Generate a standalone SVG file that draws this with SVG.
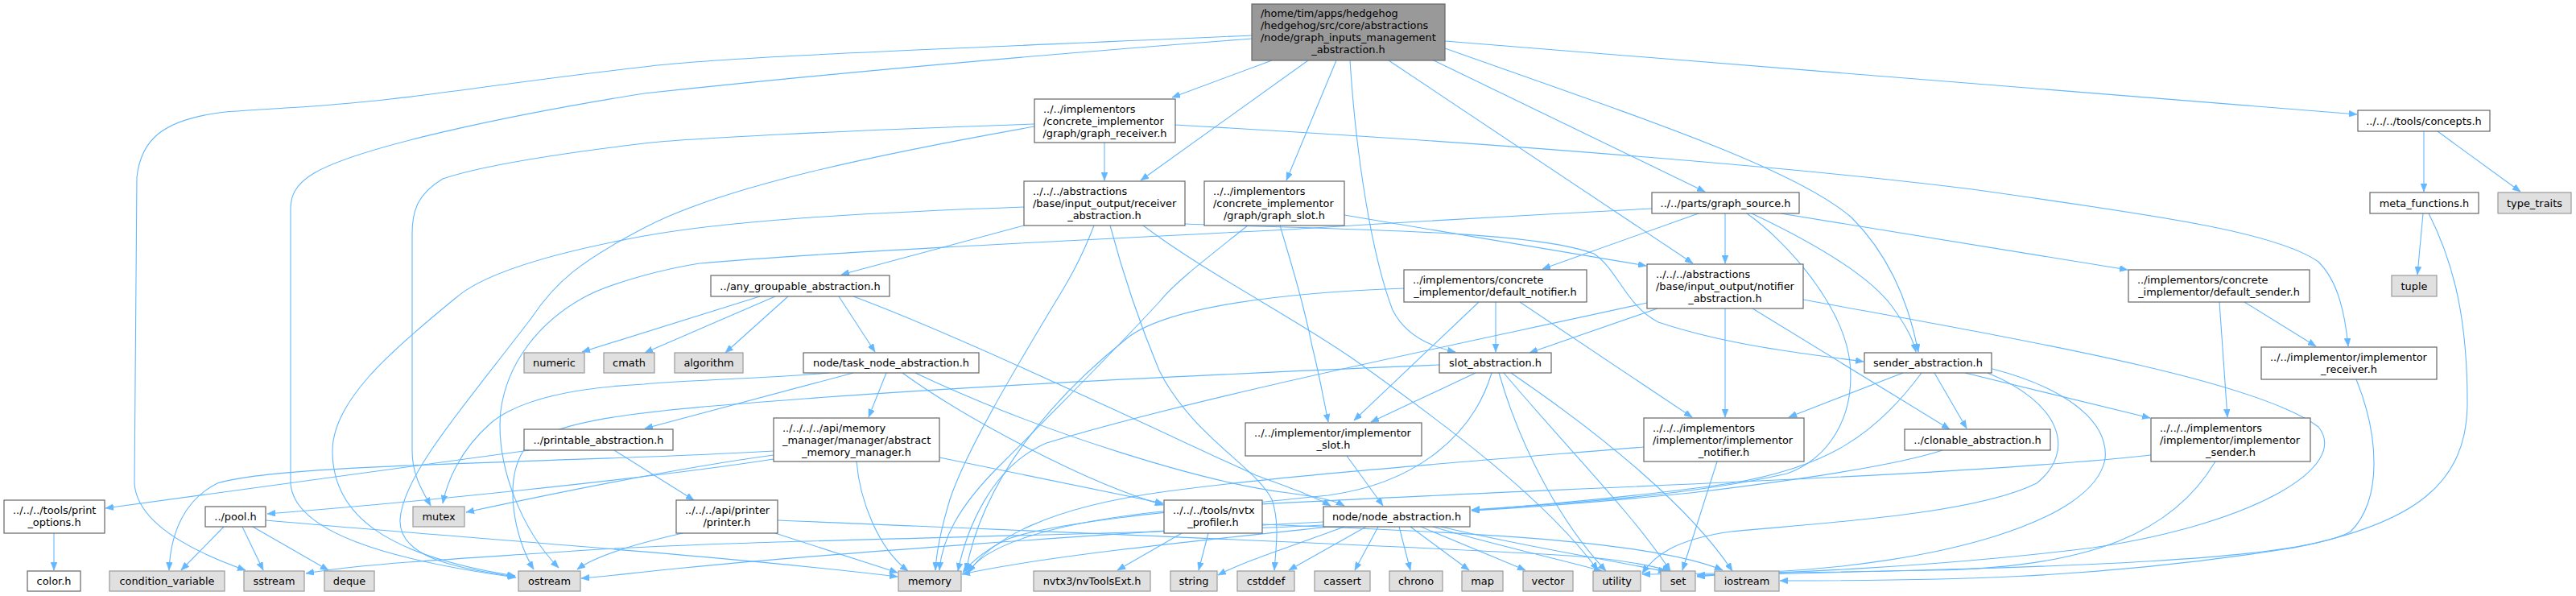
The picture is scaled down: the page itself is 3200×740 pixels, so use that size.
<svg xmlns="http://www.w3.org/2000/svg" width="3200" height="740" viewBox="0 0 3200 740">
<defs>
<style>
.n rect{fill:#ffffff;stroke:#666666;stroke-width:1.2}
.s rect{fill:#e0e0e0;stroke:#999999;stroke-width:1.2}
.r rect{fill:#999999;stroke:#666666;stroke-width:1.2}
text{font-family:"DejaVu Sans","Noto Sans",sans-serif;font-size:12.9px;fill:#000000}
.c{text-anchor:middle}
.e path{fill:none;stroke:#63b8ff;stroke-width:1.1;marker-end:url(#a)}
</style>
<marker id="a" markerUnits="userSpaceOnUse" markerWidth="11" markerHeight="8" refX="10" refY="4" orient="auto">
<path d="M0,0 L10,4 L0,8 z" fill="#63b8ff" stroke="#63b8ff" stroke-width="0.5"/>
</marker>
</defs>
<rect width="3200" height="740" fill="#ffffff"/>
<g id="edges" class="e">
<path d="M1555,44 C1200,60 900,70 800,83 C650,100 560,115 485,123 C400,133 330,135 280,139 C200,148 175,175 170,220 L167,600 C170,650 240,685 305,708"/>
<path d="M1555,48 C1200,75 950,100 800,116 C650,140 450,180 390,215 C365,230 361,245 361,260 L361,600 C365,660 480,695 641,717"/>
<path d="M1580,75 L1456,121"/>
<path d="M1625,75 L1417,224"/>
<path d="M1660,75 L1598,224"/>
<path d="M1677,75 C1685,200 1705,320 1730,385 C1745,415 1775,430 1808,437"/>
<path d="M1725,75 L2103,327"/>
<path d="M1781,75 L2118,238"/>
<path d="M1795,60 C2050,150 2230,210 2300,270 C2350,320 2372,380 2383,437"/>
<path d="M1795,51 L2928,142"/>
<path d="M1372,177 L1372,224"/>
<path d="M1285,154 C1050,162 850,172 800,178 C700,190 600,205 550,222 C520,240 512,260 512,290 L512,560 C512,590 525,610 535,628"/>
<path d="M1285,157 C1100,190 900,230 800,283 C720,325 690,350 660,395 C580,500 500,590 497,645 C495,690 560,705 640,716"/>
<path d="M1460,155 C1900,180 2250,210 2450,235 C2700,270 2830,290 2880,325 C2905,350 2913,390 2917,430"/>
<path d="M1272,280 L1045,341"/>
<path d="M1272,257 C1050,265 900,275 800,293 C680,315 600,340 566,370 C480,440 413,500 413,560 C413,640 480,690 640,715"/>
<path d="M1359,280 C1340,330 1320,360 1305,385 C1260,460 1200,560 1180,620 C1168,660 1163,690 1162,708"/>
<path d="M1379,280 C1395,340 1415,400 1440,460 C1480,540 1560,580 1580,620 C1590,650 1585,680 1583,708"/>
<path d="M1420,280 C1500,340 1600,390 1680,445 C1800,530 1920,620 1985,708"/>
<path d="M1472,278 C1650,285 1900,285 1980,315 C2010,335 2020,380 2060,400 C2150,430 2250,440 2315,449"/>
<path d="M1670,267 L2045,330"/>
<path d="M1550,280 C1500,320 1460,350 1440,375 C1380,440 1300,520 1240,580 C1190,630 1170,670 1167,708"/>
<path d="M1590,280 C1605,330 1620,380 1630,430 C1640,470 1645,500 1650,524"/>
<path d="M2110,265 L1916,334"/>
<path d="M2143,265 L2143,327"/>
<path d="M2176,265 C2250,300 2320,340 2350,380 C2368,405 2376,420 2380,437"/>
<path d="M2212,265 L2643,335"/>
<path d="M2170,265 C2220,300 2290,380 2298,450 C2305,520 2270,570 2220,588 C2100,615 1950,625 1828,633"/>
<path d="M2052,259 C1800,272 1650,282 1600,285 C1300,300 1000,315 869,327 C830,333 760,350 724,370 C670,400 630,450 622,510 C615,580 650,660 694,705"/>
<path d="M3011,163 L3011,238"/>
<path d="M3028,163 L3131,238"/>
<path d="M3010,265 L3003,341"/>
<path d="M3017,265 C3050,330 3065,400 3065,500 C3065,600 3000,650 2850,680 C2600,720 2400,721 2211,721"/>
<path d="M944,368 L723,437"/>
<path d="M963,368 L801,438"/>
<path d="M979,368 L901,438"/>
<path d="M1042,368 L1087,437"/>
<path d="M1060,368 C1200,420 1450,540 1560,590 C1600,605 1630,615 1653,628"/>
<path d="M1030,463 C950,470 850,472 800,477 C700,482 640,500 610,525 C570,560 555,600 550,625"/>
<path d="M1060,463 L801,532"/>
<path d="M1101,463 L1079,518"/>
<path d="M1121,463 C1200,520 1350,600 1445,627"/>
<path d="M1137,463 C1300,540 1500,600 1600,612 C1630,616 1655,620 1670,628"/>
<path d="M961,570 C800,595 500,625 332,638"/>
<path d="M961,565 C850,580 700,610 579,636"/>
<path d="M961,560 C700,575 350,575 270,600 C230,620 212,660 210,708"/>
<path d="M1064,573 C1068,620 1090,680 1128,709"/>
<path d="M1167,568 L1445,625"/>
<path d="M1673,566 L1718,628"/>
<path d="M658,559 L131,631"/>
<path d="M763,559 L862,621"/>
<path d="M67,662 L67,708"/>
<path d="M278,654 L225,708"/>
<path d="M301,654 L327,708"/>
<path d="M314,654 L408,708"/>
<path d="M330,646 C600,670 900,690 1115,716"/>
<path d="M848,662 C790,675 740,690 717,707"/>
<path d="M963,662 L1115,711"/>
<path d="M966,646 C1300,660 1800,680 1950,690 C2010,694 2050,702 2075,709"/>
<path d="M1468,662 L1388,708"/>
<path d="M1501,662 L1489,708"/>
<path d="M1568,651 C1800,660 2050,670 2140,708"/>
<path d="M1644,652 C1400,665 900,670 700,685 C550,695 450,700 380,712"/>
<path d="M1644,648 C1400,660 1000,690 850,705 C780,712 750,716 722,718"/>
<path d="M1652,654 C1500,670 1300,690 1195,713"/>
<path d="M1670,654 C1600,680 1550,695 1513,714"/>
<path d="M1697,654 L1601,708"/>
<path d="M1712,654 L1683,708"/>
<path d="M1738,654 L1752,708"/>
<path d="M1752,654 L1825,708"/>
<path d="M1765,654 L1895,708"/>
<path d="M1780,654 C1850,675 1940,695 1990,709"/>
<path d="M1790,654 C1900,680 2000,695 2070,710"/>
<path d="M1833,463 L1703,524"/>
<path d="M1853,463 C1830,540 1760,600 1650,615 C1450,635 1300,650 1250,670 C1220,685 1205,700 1196,711"/>
<path d="M1862,463 C1890,560 1940,650 1995,709"/>
<path d="M1868,463 C1950,560 2030,640 2075,709"/>
<path d="M1877,463 C1990,540 2100,630 2152,709"/>
<path d="M1788,453 C1500,465 1200,480 1000,495 C800,510 680,520 650,560 C625,600 640,670 663,707"/>
<path d="M2364,463 L2222,518"/>
<path d="M2387,463 C2330,540 2270,580 2150,600 C2050,615 1900,628 1828,634"/>
<path d="M2403,463 L2443,532"/>
<path d="M2441,463 L2671,519"/>
<path d="M2475,458 C2560,480 2620,520 2615,570 C2600,650 2400,700 2200,710 C2160,712 2130,714 2108,716"/>
<path d="M2469,463 C2560,500 2580,560 2530,600 C2450,640 2250,650 2150,660 C2080,670 2055,690 2040,712"/>
<path d="M2059,383 L1900,438"/>
<path d="M2143,383 L2143,518"/>
<path d="M2177,383 L2422,533"/>
<path d="M2046,376 C1800,430 1500,490 1300,550 C1230,580 1200,660 1190,709"/>
<path d="M2240,372 C2500,420 2800,470 2880,530 C2920,580 2800,650 2600,680 C2400,705 2200,712 2108,714"/>
<path d="M1858,375 L1858,437"/>
<path d="M1837,375 L1682,522"/>
<path d="M1888,375 L2102,518"/>
<path d="M1744,358 C1600,363 1450,380 1400,420 C1300,500 1220,600 1200,709"/>
<path d="M2757,375 L2767,518"/>
<path d="M2788,375 L2877,430"/>
<path d="M2927,471 C2955,540 2960,620 2920,660 C2850,700 2500,705 2108,715"/>
<path d="M2042,555 C1800,575 1600,590 1450,610 C1300,630 1230,670 1203,711"/>
<path d="M2133,573 L2090,708"/>
<path d="M2672,565 C2400,595 1800,610 1500,630 C1300,645 1220,680 1203,711"/>
<path d="M2752,573 C2700,660 2600,705 2400,708 C2200,712 2100,712 2040,713"/>
<path d="M2413,559 C2350,580 2200,600 2100,612 C2000,622 1900,630 1828,634"/>
</g>
<g id="root" class="r"><rect x="1555" y="5" width="240" height="70"/><text x="1566" y="21">/home/tim/apps/hedgehog</text><text x="1566" y="36">/hedgehog/src/core/abstractions</text><text x="1566" y="51">/node/graph_inputs_management</text><text class="c" x="1675" y="66">_abstraction.h</text></g>
<g id="graph_receiver" class="n"><rect x="1285" y="123" width="175" height="54"/><text x="1296" y="139.5">../../implementors</text><text x="1296" y="154.5">/concrete_implementor</text><text class="c" x="1372.5" y="169.5">/graph/graph_receiver.h</text></g>
<g id="receiver_abstraction" class="n"><rect x="1272" y="225" width="200" height="55"/><text x="1283" y="241.5">../../../abstractions</text><text x="1283" y="256.5">/base/input_output/receiver</text><text class="c" x="1372" y="271.5">_abstraction.h</text></g>
<g id="graph_slot" class="n"><rect x="1496" y="225" width="174" height="55"/><text x="1507" y="241.5">../../implementors</text><text x="1507" y="256.5">/concrete_implementor</text><text class="c" x="1583" y="271.5">/graph/graph_slot.h</text></g>
<g id="concepts" class="n"><rect x="2929" y="137" width="164" height="26"/><text class="c" x="3011" y="154.5">../../../tools/concepts.h</text></g>
<g id="graph_source" class="n"><rect x="2052" y="239" width="183" height="26"/><text class="c" x="2143.5" y="256.5">../../parts/graph_source.h</text></g>
<g id="meta_functions" class="n"><rect x="2944" y="239" width="135" height="26"/><text class="c" x="3011.5" y="256.5">meta_functions.h</text></g>
<g id="type_traits" class="s"><rect x="3103" y="239" width="91" height="26"/><text class="c" x="3148.5" y="256.5">type_traits</text></g>
<g id="any_groupable" class="n"><rect x="883" y="342" width="222" height="26"/><text class="c" x="994" y="359.5">../any_groupable_abstraction.h</text></g>
<g id="default_notifier" class="n"><rect x="1744" y="335" width="227" height="40"/><text x="1755" y="351.5">../implementors/concrete</text><text class="c" x="1857.5" y="366.5">_implementor/default_notifier.h</text></g>
<g id="notifier_abstraction" class="n"><rect x="2046" y="328" width="194" height="55"/><text x="2057" y="344.5">../../../abstractions</text><text x="2057" y="359.5">/base/input_output/notifier</text><text class="c" x="2143" y="374.5">_abstraction.h</text></g>
<g id="default_sender" class="n"><rect x="2644" y="335" width="225" height="40"/><text x="2655" y="351.5">../implementors/concrete</text><text class="c" x="2756.5" y="366.5">_implementor/default_sender.h</text></g>
<g id="tuple" class="s"><rect x="2971" y="342" width="56" height="26"/><text class="c" x="2999" y="359.5">tuple</text></g>
<g id="numeric" class="s"><rect x="651" y="438" width="75" height="25"/><text class="c" x="688.5" y="455">numeric</text></g>
<g id="cmath" class="s"><rect x="750" y="438" width="63" height="25"/><text class="c" x="781.5" y="455">cmath</text></g>
<g id="algorithm" class="s"><rect x="838" y="438" width="85" height="25"/><text class="c" x="880.5" y="455">algorithm</text></g>
<g id="task_node_abstraction" class="n"><rect x="998" y="438" width="218" height="25"/><text class="c" x="1107" y="455">node/task_node_abstraction.h</text></g>
<g id="slot_abstraction" class="n"><rect x="1788" y="438" width="139" height="25"/><text class="c" x="1857.5" y="455">slot_abstraction.h</text></g>
<g id="sender_abstraction" class="n"><rect x="2316" y="438" width="158" height="25"/><text class="c" x="2395" y="455">sender_abstraction.h</text></g>
<g id="implementor_receiver" class="n"><rect x="2809" y="431" width="218" height="40"/><text x="2820" y="447.5">../../implementor/implementor</text><text class="c" x="2918" y="462.5">_receiver.h</text></g>
<g id="abstract_memory_manager" class="n"><rect x="961" y="519" width="206" height="54"/><text x="972" y="535.5">../../../../api/memory</text><text x="972" y="550.5">_manager/manager/abstract</text><text class="c" x="1064" y="565.5">_memory_manager.h</text></g>
<g id="implementor_slot" class="n"><rect x="1547" y="525" width="219" height="41"/><text x="1558" y="541.5">../../implementor/implementor</text><text class="c" x="1656.5" y="556.5">_slot.h</text></g>
<g id="implementor_notifier" class="n"><rect x="2042" y="519" width="199" height="54"/><text x="2053" y="535.5">../../../implementors</text><text x="2053" y="550.5">/implementor/implementor</text><text class="c" x="2141.5" y="565.5">_notifier.h</text></g>
<g id="implementor_sender" class="n"><rect x="2672" y="519" width="198" height="54"/><text x="2683" y="535.5">../../../implementors</text><text x="2683" y="550.5">/implementor/implementor</text><text class="c" x="2771" y="565.5">_sender.h</text></g>
<g id="printable_abstraction" class="n"><rect x="651" y="533" width="185" height="26"/><text class="c" x="743.5" y="550.5">../printable_abstraction.h</text></g>
<g id="clonable_abstraction" class="n"><rect x="2366" y="533" width="181" height="26"/><text class="c" x="2456.5" y="550.5">../clonable_abstraction.h</text></g>
<g id="print_options" class="n"><rect x="5" y="621" width="125" height="41"/><text x="16" y="637.5">../../../tools/print</text><text class="c" x="67.5" y="652.5">_options.h</text></g>
<g id="pool" class="n"><rect x="255" y="629" width="75" height="25"/><text class="c" x="292.5" y="646">../pool.h</text></g>
<g id="mutex" class="s"><rect x="513" y="629" width="64" height="25"/><text class="c" x="545" y="646">mutex</text></g>
<g id="printer" class="n"><rect x="840" y="621" width="126" height="41"/><text x="851" y="637.5">../../../api/printer</text><text class="c" x="903" y="652.5">/printer.h</text></g>
<g id="nvtx_profiler" class="n"><rect x="1446" y="621" width="122" height="41"/><text x="1457" y="637.5">../../../tools/nvtx</text><text class="c" x="1507" y="652.5">_profiler.h</text></g>
<g id="node_abstraction" class="n"><rect x="1644" y="629" width="182" height="25"/><text class="c" x="1735" y="646">node/node_abstraction.h</text></g>
<g id="color" class="n"><rect x="34" y="709" width="66" height="25"/><text class="c" x="67" y="726">color.h</text></g>
<g id="condition_variable" class="s"><rect x="136" y="709" width="143" height="25"/><text class="c" x="207.5" y="726">condition_variable</text></g>
<g id="sstream" class="s"><rect x="303" y="709" width="75" height="25"/><text class="c" x="340.5" y="726">sstream</text></g>
<g id="deque" class="s"><rect x="403" y="709" width="62" height="25"/><text class="c" x="434" y="726">deque</text></g>
<g id="ostream" class="s"><rect x="644" y="709" width="77" height="25"/><text class="c" x="682.5" y="726">ostream</text></g>
<g id="memory" class="s"><rect x="1116" y="709" width="78" height="25"/><text class="c" x="1155" y="726">memory</text></g>
<g id="nvToolsExt" class="s"><rect x="1284" y="709" width="145" height="25"/><text class="c" x="1356.5" y="726">nvtx3/nvToolsExt.h</text></g>
<g id="string" class="s"><rect x="1454" y="709" width="58" height="25"/><text class="c" x="1483" y="726">string</text></g>
<g id="cstddef" class="s"><rect x="1537" y="709" width="71" height="25"/><text class="c" x="1572.5" y="726">cstddef</text></g>
<g id="cassert" class="s"><rect x="1633" y="709" width="69" height="25"/><text class="c" x="1667.5" y="726">cassert</text></g>
<g id="chrono" class="s"><rect x="1726" y="709" width="66" height="25"/><text class="c" x="1759" y="726">chrono</text></g>
<g id="map" class="s"><rect x="1816" y="709" width="51" height="25"/><text class="c" x="1841.5" y="726">map</text></g>
<g id="vector" class="s"><rect x="1892" y="709" width="62" height="25"/><text class="c" x="1923" y="726">vector</text></g>
<g id="utility" class="s"><rect x="1979" y="709" width="59" height="25"/><text class="c" x="2008.5" y="726">utility</text></g>
<g id="set" class="s"><rect x="2063" y="709" width="43" height="25"/><text class="c" x="2084.5" y="726">set</text></g>
<g id="iostream" class="s"><rect x="2130" y="709" width="80" height="25"/><text class="c" x="2170" y="726">iostream</text></g>
</svg>
